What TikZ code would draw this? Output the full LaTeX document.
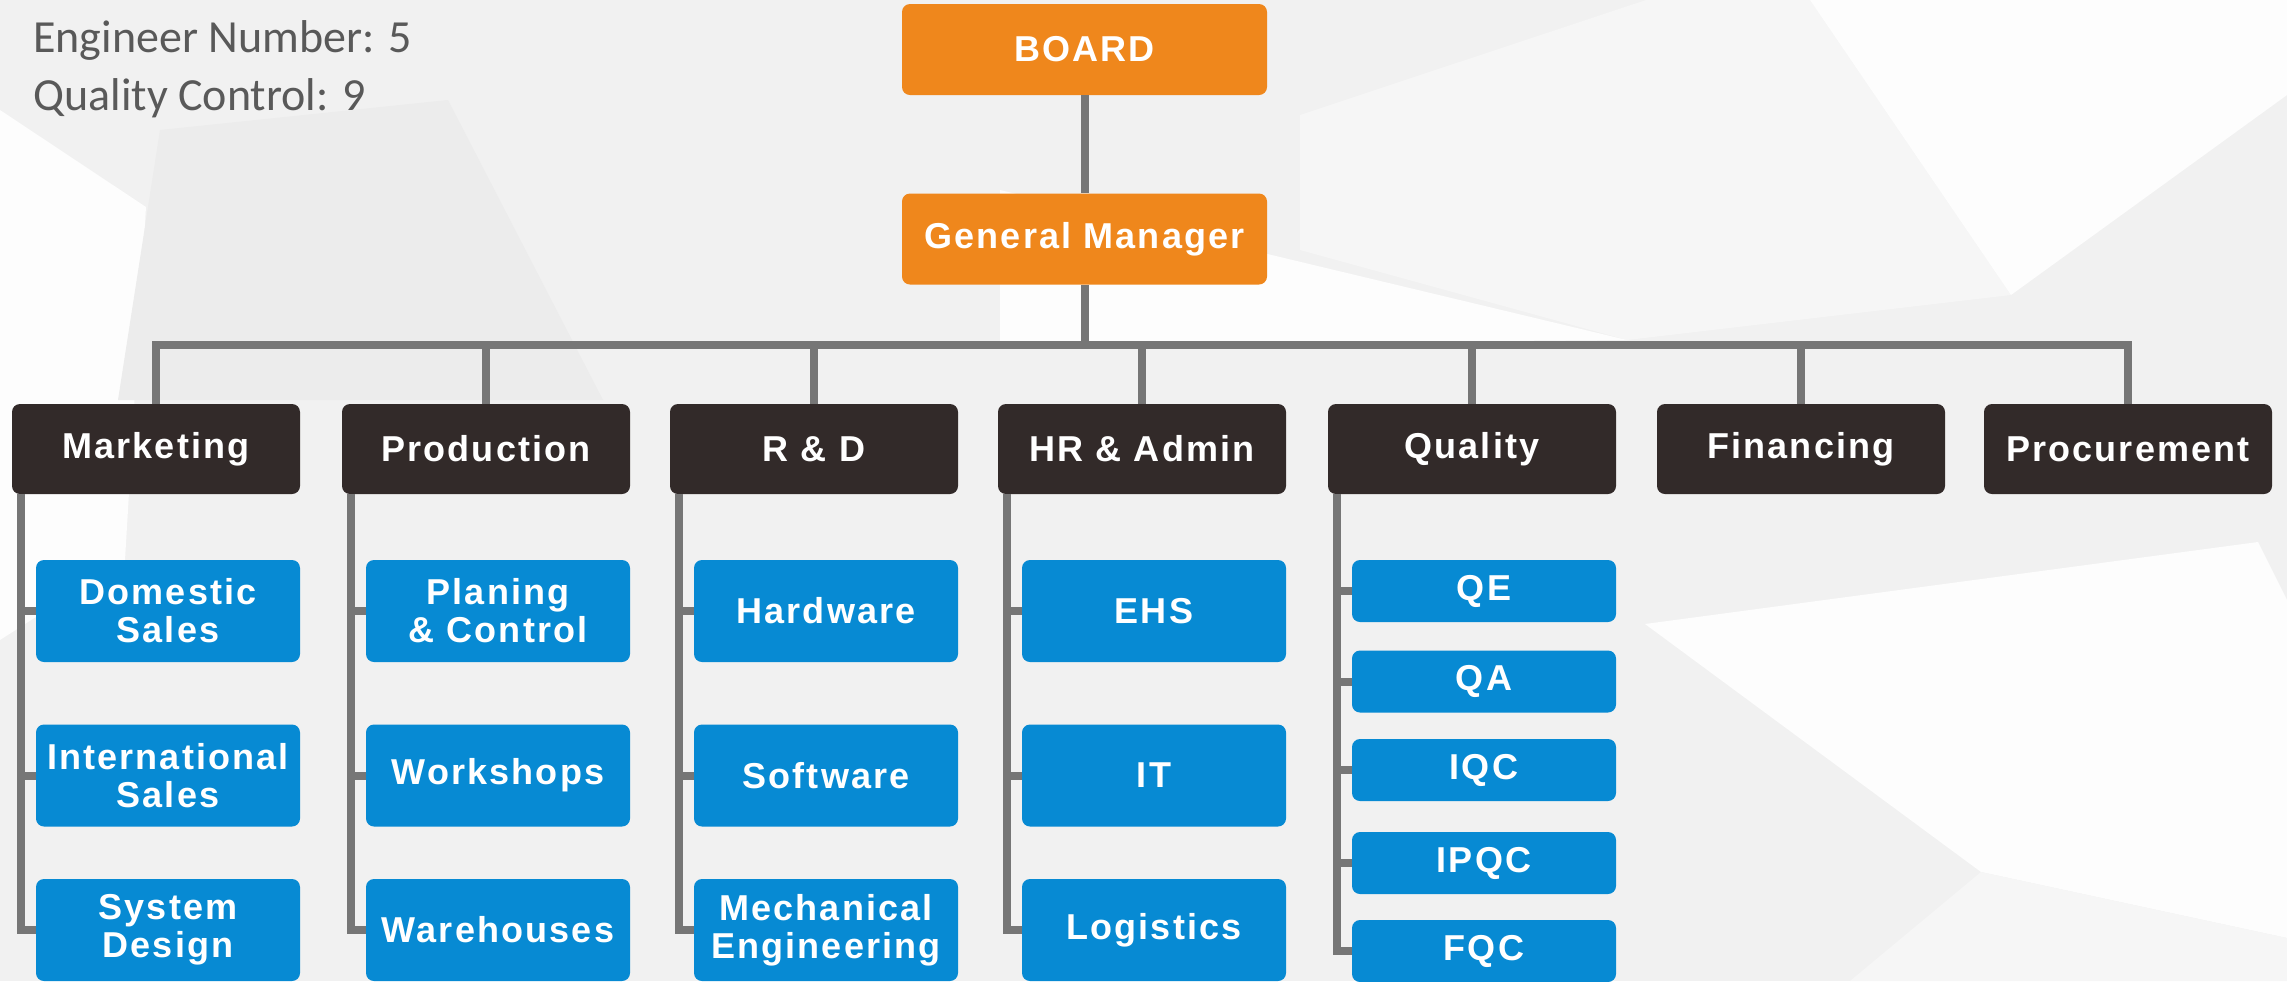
\documentclass[tikz,border=0pt]{standalone}
\usepackage{fontspec}
\usepackage{tikz}
\usetikzlibrary{positioning}
\setmainfont{Liberation Sans}
\newfontfamily\chartfont[LetterSpace=6]{Liberation Sans}
\newfontfamily\notefont{Carlito}
\definecolor{boardorange}{HTML}{EF871C}
\definecolor{deptdark}{HTML}{322A29}
\definecolor{unitblue}{HTML}{078AD3}
\definecolor{linkgray}{HTML}{767676}
\definecolor{notegray}{HTML}{595959}
\definecolor{bgbase}{HTML}{F1F1F1}
\definecolor{bglight}{HTML}{F6F6F6}
\definecolor{bgwhite}{HTML}{FDFDFD}
\definecolor{bgdark}{HTML}{ECECEC}

\begin{document}
\begin{tikzpicture}[
    x=0.5pt, y=-0.5pt,
    chart/.style=
        {rounded corners=4pt, text=white, align=center, inner sep=0pt,
         font=\chartfont\bfseries\fontsize{18pt}{19pt}\selectfont},
    topbox/.style={chart, fill=boardorange, minimum width=182.5pt, minimum height=45.5pt},
    deptbox/.style={chart, fill=deptdark, minimum width=144pt, minimum height=45pt},
    unitbox/.style={chart, fill=unitblue, minimum width=132pt, minimum height=51pt},
    qcbox/.style={unitbox, minimum height=31pt},
    note/.style={anchor=base west, inner sep=0pt, text=notegray,
         font=\notefont\fontsize{23pt}{29pt}\selectfont},
    link/.style={draw=linkgray, line width=4pt}]
    % background facets
    \useasboundingbox (0,0) rectangle (2287,981);
    \fill[bgbase] (0,0) rectangle (2287,981);
    \fill[bglight] (1646,0) -- (1810,0) -- (2011,295) -- (1627,340) -- (1300,250) -- (1300,115) -- cycle;
    \fill[bgwhite] (1810,0) -- (2011,295) -- (2287,95) -- (2287,0) -- cycle;
    \fill[bgwhite] (1645,624) -- (2258,542) -- (2287,600) -- (2287,938) -- (1981,872) -- cycle;
    \fill[bgwhite] (1000,190) -- (1627,340) -- (1000,345) -- cycle;
    \fill[bgwhite] (0,110) -- (146,207) -- (125,560) -- (0,640) -- cycle;
    \fill[bgdark] (160,130) -- (448,100) -- (603,400) -- (118,400) -- cycle;
    \fill[bglight] (1981,872) -- (2287,938) -- (2287,981) -- (1850,981) -- cycle;

    % notes
    \node[note] (engnote) at (33,52) {Engineer Number: 5};
    \node[note] (qcnote) at (33,110) {Quality Control: 9};

    % top of the chart
    \node[topbox] (board) at (1084.5,49.5) {BOARD};
    \node[topbox] (gm) at (1084.5,239) {General Manager};
    \coordinate (bus) at (1084.5,345);

    % departments
    \node[deptbox] (mkt)  at (156,449)  {Marketing};
    \node[deptbox] (prod) at (486,449)  {Production};
    \node[deptbox] (rnd)  at (814,449)  {R \& D};
    \node[deptbox] (hr)   at (1142,449) {HR \& Admin};
    \node[deptbox] (qual) at (1472,449) {Quality};
    \node[deptbox] (fin)  at (1801,449) {Financing};
    \node[deptbox] (proc) at (2128,449) {Procurement};

    % units
    \node[unitbox] (mkt1)  at (168,611)    {Domestic\\Sales};
    \node[unitbox] (mkt2)  at (168,775.5)  {International\\Sales};
    \node[unitbox] (mkt3)  at (168,930)    {System\\Design};
    \node[unitbox] (prod1) at (498,611)    {Planing\\\& Control};
    \node[unitbox] (prod2) at (498,775.5)  {Workshops};
    \node[unitbox] (prod3) at (498,930)    {Warehouses};
    \node[unitbox] (rnd1)  at (826,611)    {Hardware};
    \node[unitbox] (rnd2)  at (826,775.5)  {Software};
    \node[unitbox] (rnd3)  at (826,930)    {Mechanical\\Engineering};
    \node[unitbox] (hr1)   at (1154,611)   {EHS};
    \node[unitbox] (hr2)   at (1154,775.5) {IT};
    \node[unitbox] (hr3)   at (1154,930)   {Logistics};
    \node[qcbox] (qual1) at (1484,591)   {QE};
    \node[qcbox] (qual2) at (1484,681.5) {QA};
    \node[qcbox] (qual3) at (1484,770)   {IQC};
    \node[qcbox] (qual4) at (1484,863)   {IPQC};
    \node[qcbox] (qual5) at (1484,951)   {FQC};

    % connectors
    \draw[link] (board) -- (gm);
    \draw[link] (gm) -- (bus);
    \draw[link] (mkt.north) -- (mkt.north |- bus) -- (proc.north |- bus) -- (proc.north);
    \foreach \d in {prod,rnd,hr,qual,fin}
        \draw[link] (\d.north) -- (\d.north |- bus);
    \foreach \d in {mkt,prod,rnd,hr} {
        \coordinate (\d bar) at ([xshift=4.5pt]\d.south west);
        \draw[link] (\d bar) |- (\d3.west);
        \foreach \i in {1,2}
            \draw[link] (\d\i.west) -- (\d\i.west -| \d bar);
    }
    \coordinate (qualbar) at ([xshift=4.5pt]qual.south west);
    \draw[link] (qualbar) |- (qual5.west);
    \foreach \i in {1,...,4}
        \draw[link] (qual\i.west) -- (qual\i.west -| qualbar);
\end{tikzpicture}
\end{document}
